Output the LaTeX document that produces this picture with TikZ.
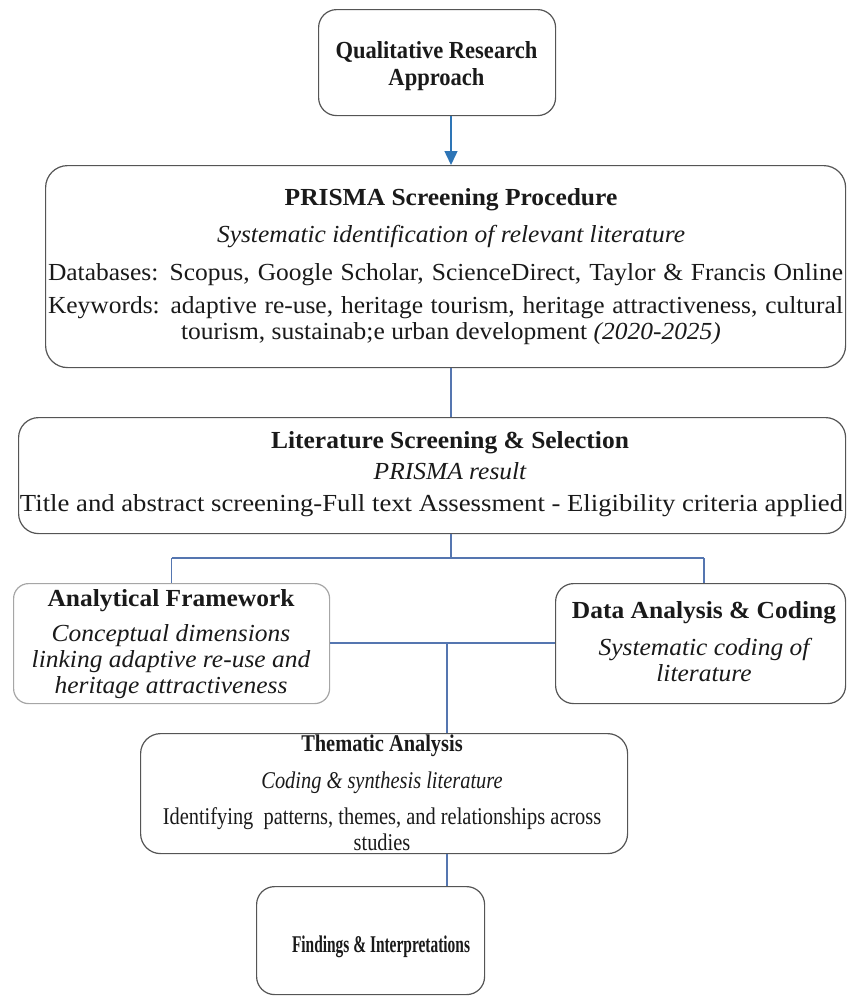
\documentclass[tikz,border=0pt]{standalone}
\usepackage{fontspec}
\setmainfont{Liberation Serif}
\newfontfamily\wideF[FakeStretch=1.04]{Liberation Serif}
\newfontfamily\oneF[FakeStretch=0.92]{Liberation Serif}
\newfontfamily\condF[FakeStretch=0.85]{Liberation Serif}
\usetikzlibrary{arrows.meta}
\definecolor{boxline}{HTML}{555555}
\definecolor{connline}{HTML}{5576B0}
\definecolor{arrowblue}{HTML}{2E75B6}
\definecolor{ink}{HTML}{1A1A1A}
\begin{document}
\begin{tikzpicture}[x=1pt,y=-1pt,
  box/.style={draw=boxline, line width=1.2pt, rounded corners=18pt, fill=white, anchor=north west, inner sep=0pt},
  softbox/.style={box, draw=gray!70, rounded corners=15pt},
  connector/.style={draw=connline, line width=1.5pt},
  txt/.style={anchor=base, inner sep=0pt, text=ink},
  wideB/.style={txt, font=\wideF\fontsize{24.5}{28}\selectfont\bfseries},
  wideI/.style={txt, font=\wideF\fontsize{24.5}{28}\selectfont\itshape},
  wideR/.style={txt, font=\wideF\fontsize{24.5}{28}\selectfont},
  condB/.style={txt, font=\condF\fontsize{24}{28}\selectfont\bfseries},
  condI/.style={txt, font=\condF\fontsize{24}{28}\selectfont\itshape},
  condR/.style={txt, font=\condF\fontsize{24}{28}\selectfont},
  oneB/.style={txt, font=\oneF\fontsize{24.5}{28}\selectfont\bfseries},
]
\useasboundingbox (0,0) rectangle (846,1001);

% boxes
\node[box, minimum width=237pt, minimum height=106pt] (b1) at (318,9) {};
\node[box, minimum width=800pt, minimum height=202pt, rounded corners=22pt] (b2) at (45,165) {};
\node[box, minimum width=827pt, minimum height=116pt, rounded corners=20pt] (b3) at (18,417) {};
\node[softbox, minimum width=316pt, minimum height=120pt] (b4) at (13,583) {};
\node[box, minimum width=290pt, minimum height=120pt] (b5) at (555,583) {};
\node[box, minimum width=487pt, minimum height=120pt, rounded corners=20pt] (b6) at (140,733) {};
\node[box, minimum width=228pt, minimum height=108pt] (b7) at (256,886) {};

% trunk coordinates
\coordinate (ta) at (451,0);
\coordinate (tb) at (447,0);
\coordinate (rv) at (704,0);
\coordinate (hy) at (0,558);
\coordinate (my) at (0,643);

% connectors
\draw[draw=arrowblue, line width=1.5pt, -{Triangle[length=14pt,width=13pt]}] (ta |- b1.south) -- (ta |- b2.north);
\draw[connector] (ta |- b2.south) -- (ta |- b3.north);
\draw[connector] (ta |- b3.south) -- (ta |- hy);
\draw[connector] (b4.north |- hy) -- (rv |- hy);
\draw[connector] (b4.north |- hy) -- (b4.north);
\draw[connector] (rv |- hy) -- (rv |- b5.north);
\draw[connector] (b4.east |- my) -- (b5.west |- my);
\draw[connector] (tb |- my) -- (tb |- b6.north);
\draw[connector] (tb |- b6.south) -- (tb |- b7.north);

% box 1
\node[oneB] (t1a) at (436.5,58) {Qualitative Research};
\node[oneB] (t1b) at (436.5,85) {Approach};

% box 2
\node[wideB] (t2a) at (451,205) {PRISMA Screening Procedure};
\node[wideI] (t2b) at (451,242) {Systematic identification of relevant literature};
\node[wideR] (t2c) at (445.5,280) {\makebox[795pt][s]{Databases: Scopus, Google Scholar, ScienceDirect, Taylor \& Francis Online}};
\node[wideR] (t2d) at (445.5,313) {\makebox[795pt][s]{Keywords: adaptive re-use, heritage tourism, heritage attractiveness, cultural}};
\node[wideR] (t2e) at (451,339) {tourism, sustainab;e urban development \textit{(2020-2025)}};

% box 3
\node[wideB] (t3a) at (450,448) {Literature Screening \& Selection};
\node[wideI] (t3b) at (450,479) {PRISMA result};
\node[wideR] (t3c) at (431.5,511) {\resizebox{823pt}{\height}{Title and abstract screening-Full text Assessment - Eligibility criteria applied}};

% box 4
\node[wideB] (t4a) at (171,606) {Analytical Framework};
\node[wideI] (t4b) at (171,641) {Conceptual dimensions};
\node[wideI] (t4c) at (171,667) {linking adaptive re-use and};
\node[wideI] (t4d) at (171,693) {heritage attractiveness};

% box 5
\node[wideB] (t5a) at (704,618) {Data Analysis \& Coding};
\node[wideI] (t5b) at (704,655) {Systematic coding of};
\node[wideI] (t5c) at (704,681) {literature};

% box 6
\node[condB] (t6a) at (382,751) {Thematic Analysis};
\node[condI] (t6b) at (382,788) {Coding \& synthesis literature};
\node[condR] (t6c) at (382,824) {Identifying\ \ patterns, themes, and relationships across};
\node[condR] (t6d) at (382,850) {studies};

% box 7
\node[txt, font=\fontsize{24}{28}\selectfont\bfseries] (t7a) at (381,952) {\resizebox{178pt}{\height}{Findings \& Interpretations}};
\end{tikzpicture}
\end{document}
